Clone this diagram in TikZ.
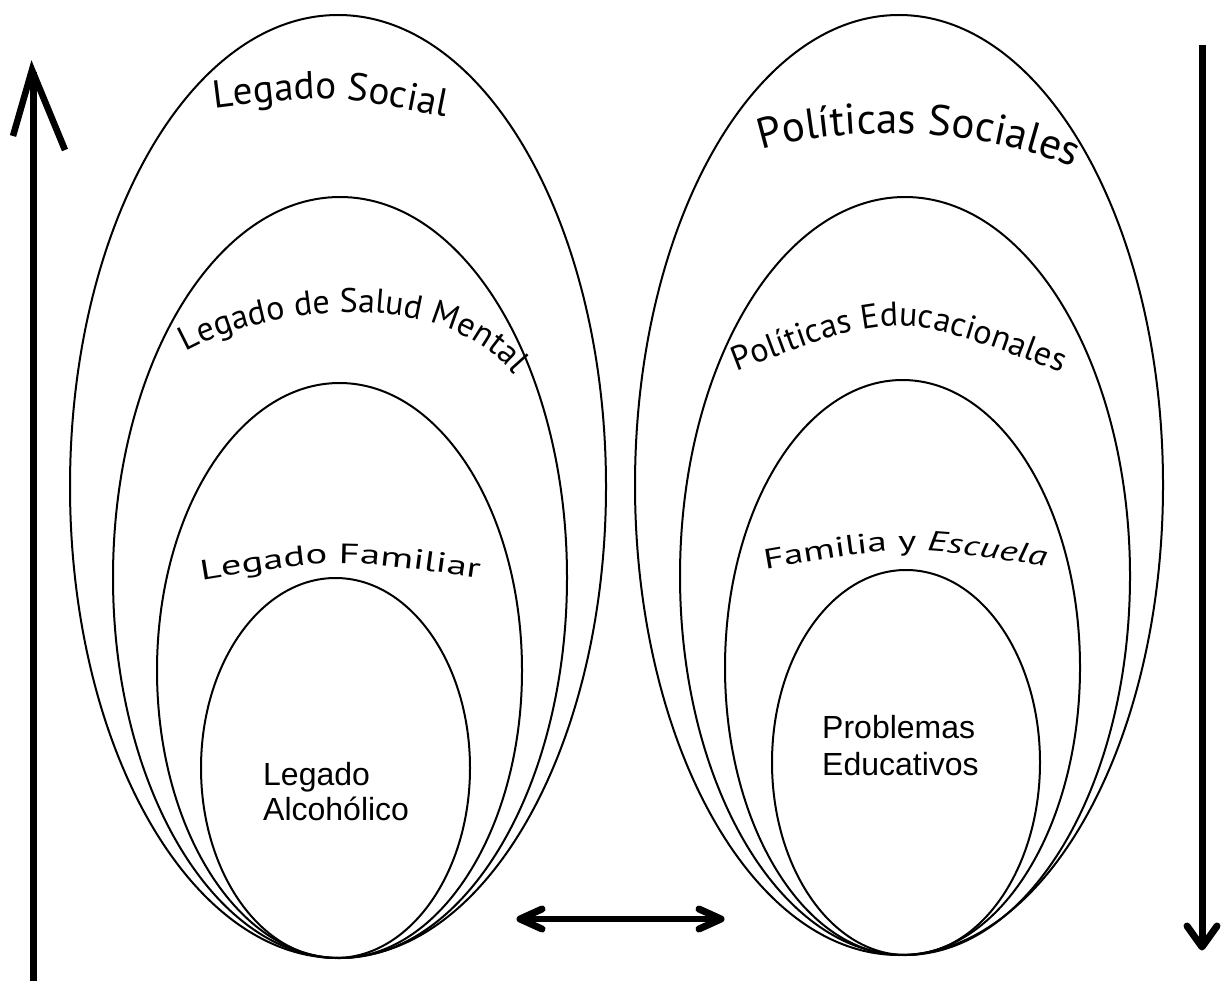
\documentclass[tikz,border=0pt]{standalone}
\usepackage{fontspec}
\setmainfont{Liberation Sans}
\newfontfamily\myr{PT Sans}
\newfontfamily\myrw[FakeStretch=1.45]{PT Sans}
\newfontfamily\myrv[FakeStretch=1.4]{PT Sans}
\usetikzlibrary{decorations.text}
\begin{document}
\begin{tikzpicture}[x=1pt,y=-1pt,
  ring/.style={draw=black,line width=2pt},
  arctext/.style={decorate,decoration={text along path,text align=center,text={#1}}},
  shaft/.style={line width=7pt},
  chevron/.style={line width=7pt,line cap=round,line join=round},
  plain/.style={font=\fontsize{32pt}{36pt}\selectfont,inner sep=0pt,anchor=base west}]
\useasboundingbox (0,0) rectangle (1230,981);
\fill[white] (0,0) rectangle (1230,981);
% left ellipses
\coordinate (l1) at (338,486.5);
\coordinate (l2) at (340,577.5);
\coordinate (l3) at (339.5,670.5);
\coordinate (l4) at (335.5,768);
\draw[ring] (l1) ellipse [x radius=268pt,y radius=471.5pt];
\draw[ring] (l2) ellipse [x radius=227pt,y radius=380.5pt];
\draw[ring] (l3) ellipse [x radius=182.5pt,y radius=287.5pt];
\draw[ring] (l4) ellipse [x radius=134.5pt,y radius=190pt];
% right ellipses
\coordinate (r1) at (899,485);
\coordinate (r2) at (905,576);
\coordinate (r3) at (902.5,667.5);
\coordinate (r4) at (906,762.5);
\draw[ring] (r1) ellipse [x radius=264pt,y radius=470pt];
\draw[ring] (r2) ellipse [x radius=225pt,y radius=379pt];
\draw[ring] (r3) ellipse [x radius=177.5pt,y radius=287.5pt];
\draw[ring] (r4) ellipse [x radius=134pt,y radius=192.5pt];
% curved labels
\path[arctext={|\myr\fontsize{39pt}{39pt}\selectfont|Legado Social}]
  (190,111.5) -- (210,109) .. controls (330,94) .. (450,118) -- (469.6,121.9);
\path[arctext={|\myr\fontsize{34pt}{34pt}\selectfont|Legado de Salud Mental}]
  (158,370) -- (175,358) .. controls (230,318) and (440,268) .. (522,385) -- (533,402);
\path[arctext={|\myrw\fontsize{28pt}{28pt}\selectfont|Legado Familiar}]
  (183.3,583.2) -- (203,580) .. controls (337,558) .. (478,578) -- (497.8,580.8);
\path[arctext={|\myr\fontsize{43pt}{43pt}\selectfont|Políticas Sociales}]
  (741,156.3) -- (760,150) .. controls (820,130) and (960,120) .. (1075,168) -- (1093.5,175.7);
\path[arctext={|\myr\fontsize{34pt}{34pt}\selectfont|Políticas Educacionales}]
  (714.2,380) -- (733,373) .. controls (897,310) .. (1065,374) -- (1083.9,381);
\path[arctext={|\myrv\fontsize{28pt}{28pt}\selectfont|Familia y |\myrv\itshape\fontsize{28pt}{28pt}\selectfont|Escuela}]
  (746.3,572.4) -- (766,569) .. controls (906,545) .. (1045,566) -- (1064.8,569);
% inner labels
\node[plain] (la) at (263,785) {Legado};
\node[plain] (lb) at (263,820) {Alcohólico};
\node[plain] (pa) at (822,738) {Problemas};
\node[plain] (pb) at (822,775) {Educativos};
% left up arrow
\coordinate (ua0) at (33,981);
\coordinate (ua1) at (33,72);
\coordinate (uv1) at (13,136);
\coordinate (uv2) at (32,70);
\coordinate (uv3) at (65,150);
\draw[shaft] (ua0) -- (ua1);
\draw[line width=6.5pt,line join=miter] (uv1) -- (uv2) -- (uv3);
% right down arrow
\coordinate (da0) at (1202,45);
\coordinate (da1) at (1202,944);
\coordinate (dv1) at (1187,926);
\coordinate (dv2) at (1202,947);
\coordinate (dv3) at (1217,926);
\draw[shaft] (da0) -- (da1);
\draw[chevron] (dv1) -- (dv2) -- (dv3);
% middle double arrow
\coordinate (ma0) at (522,919);
\coordinate (ma1) at (719,919);
\draw[line width=6pt] (ma0) -- (ma1);
\coordinate (mL1) at (542,909);
\coordinate (mL2) at (520,919);
\coordinate (mL3) at (542,929);
\coordinate (mR1) at (699,909);
\coordinate (mR2) at (721,919);
\coordinate (mR3) at (699,929);
\draw[chevron] (mL1) -- (mL2) -- (mL3);
\draw[chevron] (mR1) -- (mR2) -- (mR3);
\end{tikzpicture}
\end{document}
